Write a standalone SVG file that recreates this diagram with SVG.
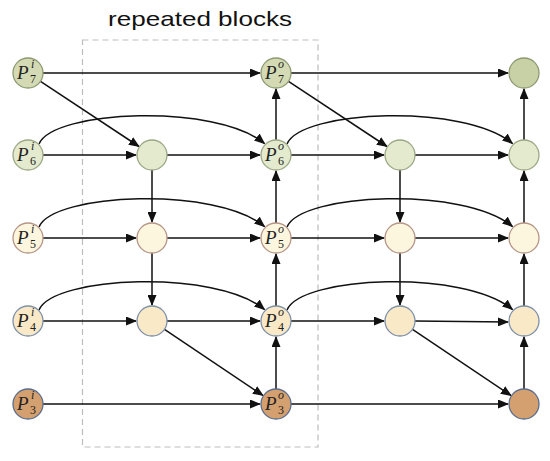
<svg xmlns="http://www.w3.org/2000/svg" width="550" height="461" viewBox="0 0 550 461">
<style>
.n{stroke-width:1.3}
.g7{fill:#d4dbb4;stroke:#8c9a72}
.g7d{fill:#c7d1a5;stroke:#8c9a72}
.g6{fill:#e4eacd;stroke:#9aa885}
.y5{fill:#fdf6de;stroke:#b49486}
.y4{fill:#f9e9c7;stroke:#7c90aa}
.o3{fill:#d4a06f;stroke:#5c6c8c}
.e{stroke:#111;stroke-width:1.5;fill:none;marker-end:url(#ah)}
.P{font-family:"Liberation Serif",serif;font-style:italic;font-size:19px;fill:#222}
.s{font-family:"Liberation Serif",serif;font-style:italic;font-size:12px;fill:#222}
.d{font-family:"Liberation Serif",serif;font-size:12px;fill:#222}
.t{font-family:"Liberation Sans",Arial,sans-serif;font-size:21px;fill:#111}
</style>
<defs>
<marker id="ah" markerWidth="11" markerHeight="9" refX="10" refY="4.5" orient="auto" markerUnits="userSpaceOnUse"><path d="M0,0 L11,4.5 L0,9 z" fill="#111"/></marker>
</defs>
<rect x="82.5" y="40" width="235.5" height="407" fill="none" stroke="#bdbdbd" stroke-width="1.2" stroke-dasharray="6 4"/>
<text class="t" x="108" y="26" textLength="184" lengthAdjust="spacingAndGlyphs">repeated blocks</text>
<g id="connectors">
<line class="e" x1="43" y1="73" x2="260" y2="73"/>
<line class="e" x1="291" y1="73" x2="508" y2="73"/>
<line class="e" x1="43" y1="155" x2="136" y2="155"/>
<line class="e" x1="167" y1="155" x2="260" y2="155"/>
<line class="e" x1="291" y1="155" x2="384" y2="155"/>
<line class="e" x1="415" y1="155" x2="508" y2="155"/>
<line class="e" x1="43" y1="238" x2="136" y2="238"/>
<line class="e" x1="167" y1="238" x2="260" y2="238"/>
<line class="e" x1="291" y1="238" x2="384" y2="238"/>
<line class="e" x1="415" y1="238" x2="508" y2="238"/>
<line class="e" x1="43" y1="321" x2="136" y2="321"/>
<line class="e" x1="167" y1="321" x2="260" y2="321"/>
<line class="e" x1="291" y1="321" x2="384" y2="321"/>
<line class="e" x1="415" y1="321" x2="508" y2="322"/>
<line class="e" x1="43" y1="404" x2="260" y2="404"/>
<line class="e" x1="291" y1="404" x2="508" y2="404"/>
<line class="e" x1="152" y1="170" x2="152" y2="222"/>
<line class="e" x1="152" y1="253" x2="152" y2="305"/>
<line class="e" x1="400" y1="170" x2="400" y2="222"/>
<line class="e" x1="400" y1="253" x2="400" y2="305"/>
<line class="e" x1="276" y1="389" x2="276" y2="337"/>
<line class="e" x1="276" y1="306" x2="276" y2="254"/>
<line class="e" x1="276" y1="223" x2="276" y2="171"/>
<line class="e" x1="276" y1="140" x2="276" y2="89"/>
<line class="e" x1="524" y1="389" x2="524" y2="337"/>
<line class="e" x1="524" y1="306" x2="524" y2="254"/>
<line class="e" x1="524" y1="223" x2="524" y2="171"/>
<line class="e" x1="524" y1="140" x2="524" y2="89"/>
<line class="e" x1="40.5" y1="81.3" x2="139" y2="146.5"/>
<line class="e" x1="288.5" y1="81.3" x2="387" y2="146.5"/>
<line class="e" x1="164.5" y1="329.3" x2="263" y2="395.5"/>
<line class="e" x1="412.5" y1="329.3" x2="511" y2="395.5"/>
<path class="e" d="M39,144 C53,110 216,103 264.5,143.5"/>
<path class="e" d="M287,144 C301,110 464,103 512.5,143.5"/>
<path class="e" d="M39,227 C53,193 216,186 264.5,226.5"/>
<path class="e" d="M287,227 C301,193 464,186 512.5,226.5"/>
<path class="e" d="M39,310 C53,276 216,269 264.5,309.5"/>
<path class="e" d="M287,310 C301,276 464,269 512.5,309.5"/>
</g>
<g id="P7i"><circle class="n g7" cx="28" cy="73" r="15"/><text class="P" x="17" y="79">P</text><text class="s" x="31" y="68">i</text><text class="d" x="30" y="83">7</text></g>
<g id="P6i"><circle class="n g6" cx="28" cy="155" r="15"/><text class="P" x="17" y="161">P</text><text class="s" x="31" y="150">i</text><text class="d" x="30" y="165">6</text></g>
<g id="P5i"><circle class="n y5" cx="28" cy="238" r="15"/><text class="P" x="17" y="244">P</text><text class="s" x="31" y="233">i</text><text class="d" x="30" y="248">5</text></g>
<g id="P4i"><circle class="n y4" cx="28" cy="321" r="15"/><text class="P" x="17" y="327">P</text><text class="s" x="31" y="316">i</text><text class="d" x="30" y="331">4</text></g>
<g id="P3i"><circle class="n o3" cx="28" cy="404" r="15"/><text class="P" x="17" y="410">P</text><text class="s" x="31" y="399">i</text><text class="d" x="30" y="414">3</text></g>
<g id="b6"><circle class="n g6" cx="152" cy="155" r="15"/></g>
<g id="b5"><circle class="n y5" cx="152" cy="238" r="15"/></g>
<g id="b4"><circle class="n y4" cx="152" cy="321" r="15"/></g>
<g id="P7o"><circle class="n g7" cx="276" cy="73" r="15"/><text class="P" x="265" y="79">P</text><text class="s" x="278" y="68">o</text><text class="d" x="278" y="83">7</text></g>
<g id="P6o"><circle class="n g6" cx="276" cy="155" r="15"/><text class="P" x="265" y="161">P</text><text class="s" x="278" y="150">o</text><text class="d" x="278" y="165">6</text></g>
<g id="P5o"><circle class="n y5" cx="276" cy="238" r="15"/><text class="P" x="265" y="244">P</text><text class="s" x="278" y="233">o</text><text class="d" x="278" y="248">5</text></g>
<g id="P4o"><circle class="n y4" cx="276" cy="321" r="15"/><text class="P" x="265" y="327">P</text><text class="s" x="278" y="316">o</text><text class="d" x="278" y="331">4</text></g>
<g id="P3o"><circle class="n o3" cx="276" cy="404" r="15"/><text class="P" x="265" y="410">P</text><text class="s" x="278" y="399">o</text><text class="d" x="278" y="414">3</text></g>
<g id="c6"><circle class="n g6" cx="400" cy="155" r="15"/></g>
<g id="c5"><circle class="n y5" cx="400" cy="238" r="15"/></g>
<g id="c4"><circle class="n y4" cx="400" cy="321" r="15"/></g>
<g id="d7"><circle class="n g7d" cx="524" cy="73" r="15"/></g>
<g id="d6"><circle class="n g6" cx="524" cy="155" r="15"/></g>
<g id="d5"><circle class="n y5" cx="524" cy="238" r="15"/></g>
<g id="d4"><circle class="n y4" cx="524" cy="321" r="15"/></g>
<g id="d3"><circle class="n o3" cx="524" cy="404" r="15"/></g>
</svg>
